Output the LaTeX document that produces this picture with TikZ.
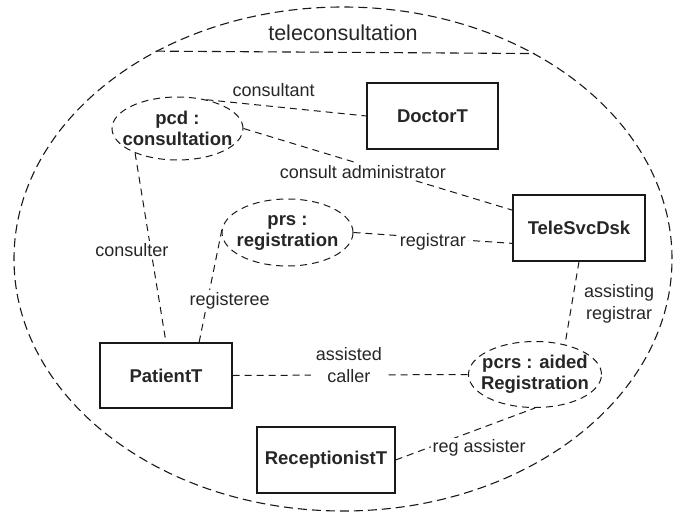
\documentclass[tikz,border=0pt]{standalone}
\usepackage{fontspec}
\setmainfont{Liberation Sans}
\usetikzlibrary{shapes.geometric}
\begin{document}
\begin{tikzpicture}[x=1pt,y=-1pt,
  conn/.style={draw=black!90, line width=1pt, dash pattern=on 7pt off 5pt},
  rolebox/.style={draw=black!90, line width=1pt, dash pattern=on 7pt off 5pt,
    ellipse, inner sep=0pt},
  typebox/.style={draw=black!90, line width=1.2pt, rectangle, inner sep=0pt,
    font=\fontsize{18.5}{21}\selectfont\bfseries, text=black!85},
  roletext/.style={font=\fontsize{18.5}{21}\selectfont\bfseries, text=black!85,
    align=center, inner sep=0pt},
  lab/.style={font=\fontsize{18}{22}\selectfont, text=black!85, inner sep=2pt,
    align=center}]
\useasboundingbox (0,0) rectangle (674,511);

% collaboration boundary with its name compartment
\node[draw=black!90, line width=1.1pt, dash pattern=on 9pt off 5pt, ellipse,
  inner sep=0pt, minimum width=658pt, minimum height=504pt] (sys) at (343,259) {};
\draw[draw=black!90, line width=1.1pt, dash pattern=on 9pt off 5pt]
  (sys.132.6) -- (sys.47.4);
\node[font=\fontsize{21.5}{24}\selectfont, text=black!85] (title) at (343,33)
  {teleconsultation};

% roles
\node[rolebox, minimum width=131pt, minimum height=63pt] (pcd) at (177.5,128.5) {};
\node[roletext] (pcdt) at (pcd) {pcd :\\consultation};
\node[rolebox, minimum width=131pt, minimum height=67pt] (prs) at (287.5,232.5) {};
\node[roletext] (prst) at (prs) {prs :\\registration};
\node[rolebox, minimum width=133pt, minimum height=66pt] (pcrs) at (535,374.5) {};
\node[roletext] (pcrst) at (pcrs) {pcrs : aided\\Registration};

% participant types
\node[typebox, minimum width=131pt, minimum height=66pt] (doc) at (432.5,116) {DoctorT};
\node[typebox, minimum width=132pt, minimum height=66pt] (tsd) at (579,228) {TeleSvcDsk};
\node[typebox, minimum width=132pt, minimum height=65pt] (pt) at (166,375.5) {PatientT};
\node[typebox, minimum width=138pt, minimum height=66pt] (rt) at (326,460) {ReceptionistT};

% role bindings
\draw[conn] (pcd.45) -- (doc.west)
  node[lab, pos=.42, yshift=16.7pt] {consultant};
\draw[conn] (pcd.east) -- (tsd.165)
  node[lab, fill=white, pos=.444, yshift=-7pt] {consult administrator};
\draw[conn] (pcd.210) -- (pt.north)
  node[lab, fill=white, pos=.51, xshift=-19pt] {consulter};
\draw[conn] (pt.45) -- (prs.175)
  node[lab, fill=white, pos=.362, xshift=22pt] {registeree};
\draw[conn] (prs.east) -- (tsd.193)
  node[lab, fill=white, pos=.5, yshift=-4pt] {registrar};
\draw[conn] (tsd.south) -- (pcrs.45)
  node[lab, pos=.53, xshift=47.6pt, yshift=1.5pt] {assisting\\registrar};
\draw[conn] (pt.east) -- (pcrs.west)
  node[lab, fill=white, inner xsep=5pt, pos=.494, yshift=10pt] {assisted\\caller};
\draw[conn] (rt.east) -- (pcrs.south)
  node[lab, fill=white, pos=.6, yshift=-19.5pt] {reg assister};
\end{tikzpicture}
\end{document}
